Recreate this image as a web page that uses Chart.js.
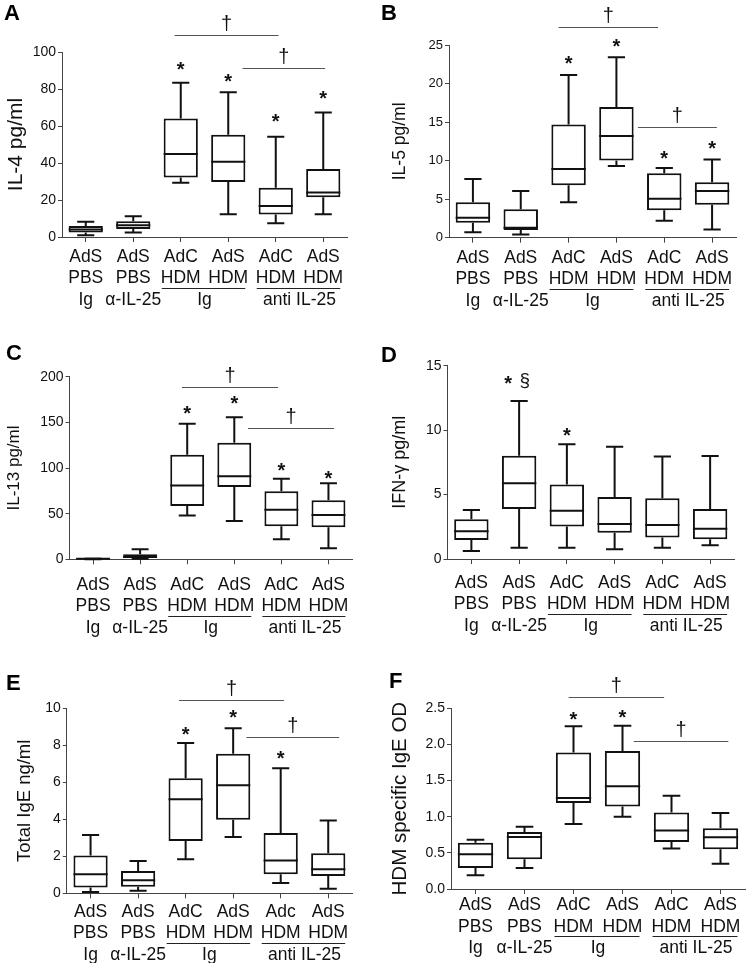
<!DOCTYPE html>
<html>
<head>
<meta charset="utf-8">
<script src="https://cdn.jsdelivr.net/npm/chart.js@4.4.1/dist/chart.umd.min.js"></script>
<style>
  body { margin: 0; background: #fff; }
  #fig { position: relative; width: 750px; height: 963px; overflow: hidden; }
  #fig canvas { position: absolute; }
  .letter { position: absolute; font: bold 22px "Liberation Sans", Arial, sans-serif; line-height: 22px; color: #000; }
</style>
</head>
<body>
<div id="fig">
  <canvas id="chartA" width="375" height="320" style="left:0;top:0"></canvas>
  <canvas id="chartB" width="375" height="320" style="left:375px;top:0"></canvas>
  <canvas id="chartC" width="375" height="320" style="left:0;top:320px"></canvas>
  <canvas id="chartD" width="375" height="320" style="left:375px;top:320px"></canvas>
  <canvas id="chartE" width="375" height="323" style="left:0;top:640px"></canvas>
  <canvas id="chartF" width="375" height="323" style="left:375px;top:640px"></canvas>
  <div class="letter" style="left:4px;top:2px">A</div>
  <div class="letter" style="left:381px;top:2px">B</div>
  <div class="letter" style="left:6px;top:342px">C</div>
  <div class="letter" style="left:381px;top:344px">D</div>
  <div class="letter" style="left:6px;top:672px">E</div>
  <div class="letter" style="left:389px;top:670px">F</div>
</div>
<script>
// category labels (two lines under each box)
const labels = [["AdS", "PBS"], ["AdS", "PBS"], ["AdC", "HDM"], ["AdS", "HDM"], ["AdC", "HDM"], ["AdS", "HDM"]];
const labelsE = [["AdS", "PBS"], ["AdS", "PBS"], ["AdC", "HDM"], ["AdS", "HDM"], ["Adc", "HDM"], ["AdS", "HDM"]];
// third label row: [first index, last index, text, underlined]
const groupRow = [[0, 0, "Ig", false], [1, 1, "α-IL-25", false], [2, 3, "Ig", true], [4, 5, "anti IL-25", true]];

// box summaries per group: [min, q1, median, q3, max]
const il4 = [[1, 2.4, 4, 6, 8.3], [2.4, 4.3, 6.3, 8.5, 11.2], [29.3, 32.2, 44.8, 64, 83.4], [12.3, 29.7, 40.7, 55.3, 78.3], [7.4, 12.1, 16.8, 26.6, 54.2], [12.3, 21.5, 24, 36.7, 67.3]];
const il5 = [[0.7, 1.95, 2.6, 4.6, 7.6], [0.43, 1.0, 1.3, 3.7, 6.05], [4.6, 6.8, 8.9, 14.7, 21.1], [9.3, 10.0, 13.2, 16.95, 23.4], [2.2, 3.55, 5.06, 8.35, 9.04], [1.08, 4.28, 6.05, 7.2, 10.16]];
const il13 = [[0, 0.3, 0.5, 0.8, 1], [0.7, 1.5, 2.5, 5.5, 11], [48, 58.4, 80.7, 114.6, 148.5], [42, 79.2, 90.9, 127.7, 155.5], [21.9, 36.1, 54.4, 74.5, 88.3], [12, 35, 48.5, 64.6, 83.2]];
const ifng = [[0.62, 1.47, 2.15, 3.08, 3.8], [0.88, 3.88, 5.87, 8.02, 12.26], [0.88, 2.53, 3.75, 5.79, 8.9], [0.75, 2.04, 2.72, 4.81, 8.71], [0.88, 1.66, 2.64, 4.71, 7.96], [1.06, 1.53, 2.35, 3.88, 7.99]];
const totalIgE = [[0.07, 0.32, 1.03, 2.04, 3.15], [0.14, 0.36, 0.7, 1.2, 1.75], [1.84, 2.83, 5.08, 6.22, 8.13], [3.05, 3.98, 5.84, 7.55, 8.92], [0.56, 1.03, 1.77, 3.26, 6.76], [0.25, 0.94, 1.3, 2.16, 3.93]];
const hdmIgE = [[0.19, 0.29, 0.48, 0.64, 0.68], [0.29, 0.41, 0.72, 0.79, 0.86], [0.9, 1.19, 1.26, 1.89, 2.25], [1.0, 1.14, 1.42, 1.91, 2.26], [0.56, 0.65, 0.81, 1.06, 1.29], [0.35, 0.55, 0.715, 0.84, 1.05]];

// significance marks: [group index, value, symbol]
const marksA = [[2, 93, "*"], [3, 86.5, "*"], [4, 65, "*"], [5, 77.3, "*"]];
const marksB = [[2, 23.3, "*"], [3, 25.5, "*"], [4, 10.9, "*"], [5, 12.2, "*"]];
const marksC = [[2, 165.7, "*"], [3, 175.6, "*"], [4, 102.2, "*"], [5, 94.5, "*"]];
const marksD = [[0.77, 14.04, "*"], [1.12, 14.04, "§"], [2, 10.0, "*"]];
const marksE = [[2, 8.83, "*"], [3, 9.8, "*"], [4, 7.58, "*"]];
const marksF = [[2, 2.41, "*"], [3, 2.44, "*"]];

// dagger brackets: [from index, to index, value]
const barsA = [[1.87, 4.06, 109], [3.3, 5.04, 91.4]];
const barsB = [[1.79, 3.87, 27.3], [3.45, 5.1, 14.4]];
const barsC = [[1.89, 3.93, 189], [3.29, 5.12, 144]];
const barsD = [];
const barsE = [[1.86, 4.07, 10.45], [3.28, 5.23, 8.43]];
const barsF = [[1.9, 3.85, 2.65], [3.23, 5.16, 2.05]];

const FONT = '"Liberation Sans", Arial, sans-serif';
const axisColor = "#444";
const ink = "#111";
const LH = 21.5;
Chart.defaults.font.family = FONT;

function boxPlugin(o) {
  return {
    id: "boxExtras",
    afterDatasetsDraw(chart) {
      const ctx = chart.ctx;
      const y = chart.scales.y, x = chart.scales.x;
      const meta = chart.getDatasetMeta(0);
      ctx.save();
      ctx.strokeStyle = ink;
      ctx.lineWidth = 2;
      meta.data.forEach((bar, i) => {
        const b = o.box[i];
        const hw = bar.width / 2;
        const cap = hw * 0.5;
        const cx = bar.x;
        ctx.beginPath();
        // median
        ctx.moveTo(cx - hw, y.getPixelForValue(b[2]));
        ctx.lineTo(cx + hw, y.getPixelForValue(b[2]));
        // whiskers
        ctx.moveTo(cx, y.getPixelForValue(b[3]));
        ctx.lineTo(cx, y.getPixelForValue(b[4]));
        ctx.moveTo(cx, y.getPixelForValue(b[1]));
        ctx.lineTo(cx, y.getPixelForValue(b[0]));
        // caps
        ctx.moveTo(cx - cap, y.getPixelForValue(b[4]));
        ctx.lineTo(cx + cap, y.getPixelForValue(b[4]));
        ctx.moveTo(cx - cap, y.getPixelForValue(b[0]));
        ctx.lineTo(cx + cap, y.getPixelForValue(b[0]));
        ctx.stroke();
      });

      // stars and section signs
      ctx.fillStyle = ink;
      ctx.textAlign = "center";
      o.marks.forEach(m => {
        const px = x.getPixelForValue(m[0]);
        const py = y.getPixelForValue(m[1]);
        if (m[2] === "*") {
          ctx.font = "bold 20px " + FONT;
          ctx.textBaseline = "alphabetic";
          ctx.fillText("*", px, py + 11.5);
        } else {
          ctx.font = "19px " + FONT;
          ctx.textBaseline = "middle";
          ctx.fillText(m[2], px, py + 3);
        }
      });

      // dagger brackets
      ctx.strokeStyle = "#555";
      ctx.lineWidth = 1;
      ctx.font = "20px " + FONT;
      ctx.textBaseline = "bottom";
      o.bars.forEach(s => {
        const x0 = x.getPixelForValue(s[0]), x1 = x.getPixelForValue(s[1]);
        const py = Math.round(y.getPixelForValue(s[2])) + 0.5;
        ctx.beginPath();
        ctx.moveTo(x0, py);
        ctx.lineTo(x1, py);
        ctx.stroke();
        ctx.fillText("†", (x0 + x1) / 2, py - 1);
      });

      // third label row and group underlines
      const base = x.top + 5 + o.xPad;
      const row2 = base + LH * 1.5;
      const row3 = base + LH * 2.5;
      ctx.font = "17.5px " + FONT;
      ctx.textBaseline = "middle";
      ctx.strokeStyle = "#222";
      groupRow.forEach(g => {
        const p0 = x.getPixelForValue(g[0]), p1 = x.getPixelForValue(g[1]);
        ctx.fillText(g[2], (p0 + p1) / 2, row3);
        if (g[3]) {
          const uy = Math.round(row2 + 9.5) + 0.5;
          ctx.beginPath();
          ctx.moveTo(p0 - 19, uy);
          ctx.lineTo(p1 + 17, uy);
          ctx.stroke();
        }
      });
      ctx.restore();
    }
  };
}

function boxPanel(id, o) {
  const canvas = document.getElementById(id);
  const W = canvas.width, H = canvas.height;
  return new Chart(canvas, {
    type: "bar",
    data: {
      labels: o.labels,
      datasets: [{
        data: o.box.map(b => [b[1], b[3]]),
        backgroundColor: "#fff",
        borderColor: ink,
        borderWidth: 2,
        borderSkipped: false,
        barPercentage: 0.72,
        categoryPercentage: 1
      }]
    },
    options: {
      responsive: false,
      animation: false,
      layout: { padding: { top: o.area.top, right: W - o.area.right, left: 0, bottom: 0 } },
      plugins: { legend: { display: false }, tooltip: { enabled: false } },
      scales: {
        x: {
          offset: true,
          grid: { display: true, drawOnChartArea: false, offset: false, tickLength: 5, color: axisColor },
          border: { display: true, color: axisColor, width: 1 },
          ticks: { color: ink, padding: o.xPad, maxRotation: 0, autoSkip: false, font: { size: 17.5, lineHeight: LH + "px" } },
          afterFit: s => { s.height = H - o.area.bottom; }
        },
        y: {
          min: 0,
          max: o.max,
          grid: { display: true, drawOnChartArea: false, tickLength: 4, color: axisColor },
          border: { display: true, color: axisColor, width: 1 },
          ticks: { stepSize: o.step, color: ink, padding: 2, font: { size: o.tickSize }, callback: o.fmt || (v => v) },
          title: { display: true, text: o.title, color: ink, font: { size: o.titleSize }, padding: { top: o.titlePad, bottom: 0 } },
          afterFit: s => { s.width = o.area.left; }
        }
      }
    },
    plugins: [boxPlugin(o)]
  });
}

boxPanel("chartA", { labels: labels, box: il4, marks: marksA, bars: barsA, max: 100, step: 20, title: "IL-4 pg/ml",
  area: { left: 62, top: 52, right: 347, bottom: 237 }, xPad: 4, titlePad: 3.5, titleSize: 21, tickSize: 14 });
boxPanel("chartB", { labels: labels, box: il5, marks: marksB, bars: barsB, max: 25, step: 5, title: "IL-5 pg/ml",
  area: { left: 74, top: 45, right: 361, bottom: 237.7 }, xPad: 4.5, titlePad: 14.5, titleSize: 17.5, tickSize: 13 });
boxPanel("chartC", { labels: labels, box: il13, marks: marksC, bars: barsC, max: 200, step: 50, title: "IL-13 pg/ml",
  area: { left: 69.5, top: 56.7, right: 352, bottom: 239.3 }, xPad: 10, titlePad: 3.8, titleSize: 17, tickSize: 14 });
boxPanel("chartD", { labels: labels, box: ifng, marks: marksD, bars: barsD, max: 15, step: 5, title: "IFN-γ pg/ml",
  area: { left: 72.5, top: 45.7, right: 359, bottom: 239 }, xPad: 8, titlePad: 14.3, titleSize: 18, tickSize: 14 });
boxPanel("chartE", { labels: labelsE, box: totalIgE, marks: marksE, bars: barsE, max: 10, step: 2, title: "Total IgE ng/ml",
  area: { left: 66.8, top: 68.3, right: 352, bottom: 253.3 }, xPad: 3, titlePad: 14, titleSize: 18.5, tickSize: 14 });
boxPanel("chartF", { labels: labels, box: hdmIgE, marks: marksF, bars: barsF, max: 2.5, step: 0.5, title: "HDM specific IgE OD",
  area: { left: 76, top: 68.3, right: 370, bottom: 249 }, xPad: 0.5, titlePad: 13, titleSize: 20.5, tickSize: 14, fmt: v => v.toFixed(1) });
</script>
</body>
</html>
